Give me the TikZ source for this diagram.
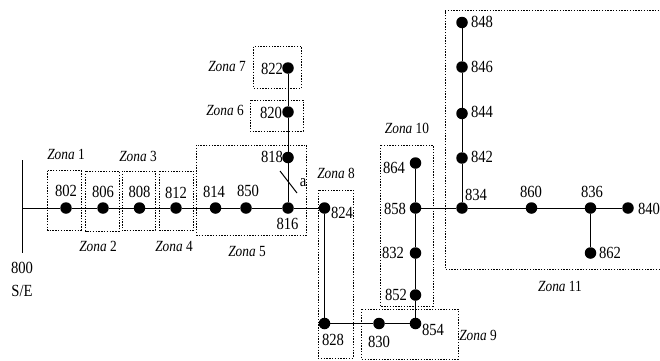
\documentclass[tikz,border=0pt]{standalone}
\usepackage{fontspec}
\setmainfont[FakeStretch=0.86]{Liberation Serif}
\tikzset{
  bus/.style={circle,fill=black,draw=none,inner sep=0pt,minimum size=11.5pt},
  lab/.style={inner sep=0pt,font=\fontsize{17}{17}\selectfont},
  zlab/.style={inner sep=0pt,font=\fontsize{15.5}{15.5}\selectfont},
  zonebox/.style={draw=black,line width=0.8pt,dash pattern=on 1.4pt off 1.4pt},
  wire/.style={draw=black,line width=1pt}
}
\newcommand{\zn}[1]{\textit{Zona} #1}
\begin{document}
\begin{tikzpicture}[x=1pt,y=-1pt]
\useasboundingbox (0,0) rectangle (660,360);
% zones
\draw[zonebox] (47.5,170.5) rectangle (81,230);
\draw[zonebox] (85.5,171) rectangle (119,231);
\draw[zonebox] (122,171) rectangle (155,230.5);
\draw[zonebox] (159.5,171) rectangle (193,230.5);
\draw[zonebox] (196.5,145) rectangle (306.5,235);
\draw[zonebox] (253.5,46.5) rectangle (301.5,88);
\draw[zonebox] (250,100) rectangle (303,131);
\draw[zonebox] (318,190) rectangle (353,358);
\draw[zonebox] (380,145) rectangle (433,306);
\draw[zonebox] (361.5,309) rectangle (458,359);
\draw[zonebox] (445,10.5) -- (660,10.5) (660,269) -- (445,269) -- (445,10.5);
% buses
\coordinate (n800) at (22,208);
\coordinate (bt) at (22,160);
\coordinate (bb) at (22,253);
\coordinate (at) at (280,171);
\coordinate (ab) at (297,193);
\foreach \n/\x/\y in {802/66/208,806/103/208,808/139.5/208,812/176/208,814/215.5/208,850/246/208,816/288/208,824/324.5/208,818/288/157.5,820/288/112,822/288/68,828/324.5/323.5,830/379/323.5,854/415.5/323.5,852/415.5/295,832/415.5/253,858/415.5/208,864/415.5/163,834/462/208,842/462/158,844/462/113.5,846/462/67,848/462/22.5,860/531.5/208,836/590.5/208,840/628/208,862/590.5/253}
  \node[bus] (n\n) at (\x,\y) {};
% connectors
\draw[wire] (bt) -- (bb);
\draw[wire] (at) -- (ab);
\draw[wire] (n800) -- (n802) -- (n806) -- (n808) -- (n812) -- (n814) -- (n850) -- (n816) -- (n824) -- (n828) -- (n830) -- (n854) -- (n852) -- (n832) -- (n858) -- (n864);
\draw[wire] (n858) -- (n834) -- (n860) -- (n836) -- (n840);
\draw[wire] (n836) -- (n862);
\draw[wire] (n834) -- (n842) -- (n844) -- (n846) -- (n848);
\draw[wire] (n816) -- (n818) -- (n820) -- (n822);
% bus labels
\foreach \n/\x/\y in {802/66/191,806/103/192,808/139.5/192,812/176/193,814/214/192,850/248/191,816/287.5/224,818/272/157,820/271/113,822/272/69,824/342/213,828/333/340,830/379/342,854/433/330,852/396/295,832/393/253,858/395/209,864/394/168,834/476/195,842/482/157,844/482/112,846/482/67,848/482/22,860/531/192,836/592/192,840/649/209,862/610/253,800/22/268}
  \node[lab] (t\n) at (\x,\y) {\n};
\node[lab] (tse) at (22,291) {S/E};
\node[lab] (ta) at (303,183) {a};
% zone labels
\foreach \k/\x/\y in {1/66/154,2/98/246,3/138/156,4/174/246,5/247/251,6/225/110,7/227/66,8/336/173,9/478/335,10/407/128,11/560/286}
  \node[zlab] (z\k) at (\x,\y) {\zn{\k}};
\end{tikzpicture}
\end{document}
